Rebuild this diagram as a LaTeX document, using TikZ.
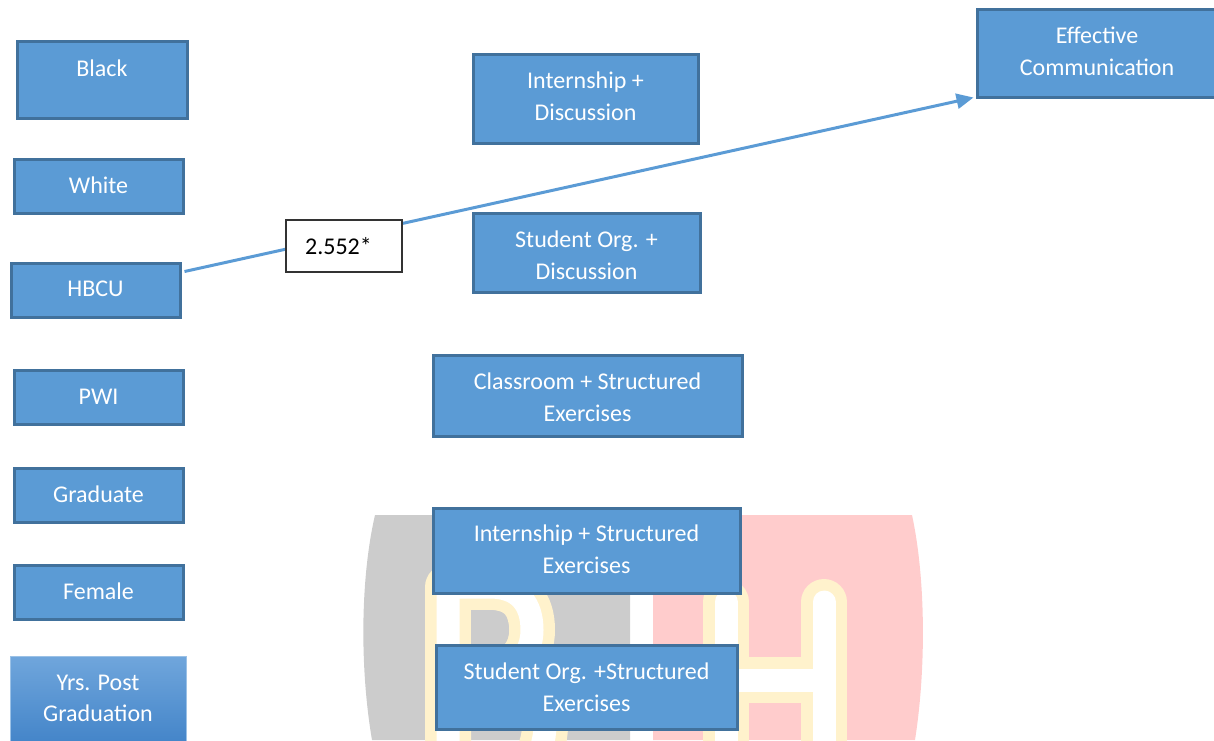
\documentclass[tikz,border=0pt]{standalone}
\usepackage{fontspec}
\setmainfont{Carlito}
\definecolor{bfill}{HTML}{5B9BD5}
\definecolor{bline}{HTML}{41719C}
\definecolor{gtop}{HTML}{70A6DC}
\definecolor{gbot}{HTML}{4485C9}
\definecolor{wgray}{HTML}{CCCCCC}
\definecolor{wpink}{HTML}{FFCCCC}
\definecolor{wcream}{HTML}{FFF2CC}
\newcommand\btxt[2]{\raisebox{#1}[0pt][0pt]{\begin{tabular}[c]{@{}c@{}}#2\end{tabular}}}
\tikzset{
  bx/.style={draw=bline,fill=bfill,line width=3pt,text=white,inner sep=0pt,
    font=\fontsize{24}{32}\selectfont},
  gradbx/.style={draw=gtop!70!white,line width=1pt,top color=gtop,bottom color=gbot,
    text=white,inner sep=0pt,font=\fontsize{24}{31}\selectfont},
  lab/.style={draw=black!80,fill=white,line width=1.3pt,inner sep=0pt,
    font=\fontsize{24}{31}\selectfont},
  wstroke/.style={line width=46pt,draw=wcream,line join=round,line cap=round},
  wcore/.style={line width=23pt,draw=white,line join=round,line cap=round},
  conn/.style={draw=bfill,line width=3pt,-{Triangle[length=17pt,width=15pt]}}
}
\usetikzlibrary{arrows.meta}
\begin{document}
\begin{tikzpicture}[x=1pt,y=-1pt]
\useasboundingbox (0,0) rectangle (1214,740);
\clip (0,0) rectangle (1214,740);
% watermark
\fill[wgray] (375,515) -- (630,515) -- (630,740) -- (372,740) .. controls (360,670) and (360,580) .. (375,515) -- cycle;
\fill[wpink] (653,515) -- (912,515) .. controls (926,580) and (926,670) .. (915,740) -- (653,740) -- cycle;
\def\Bpath{(448,790) -- (448,587) -- (490,587) .. controls (520,587) and (532,605) .. (532,630) .. controls (532,655) and (515,672) .. (490,672) -- (448,672) (490,672) .. controls (530,672) and (545,695) .. (545,725) .. controls (545,755) and (525,790) .. (490,790) -- (448,790)}
\def\Hpath{(726,790) -- (726,602) (824,602) -- (824,790) (726,680) -- (824,680)}
\draw[wstroke] \Bpath;
\draw[wcore] \Bpath;
\fill[wgray] (471,610) rectangle (490,650) (490,610) .. controls (503,610) and (509,618) .. (509,630) .. controls (509,642) and (503,650) .. (490,650) -- cycle;
\draw[wstroke] \Hpath;
\draw[wcore] \Hpath;
% left column
\node[bx,minimum width=170pt,minimum height=77pt] (black) at (102,79.5) {\btxt{3pt}{Black}};
\node[bx,minimum width=169pt,minimum height=54pt] (white) at (98.5,186) {\btxt{-7pt}{White}};
\node[bx,minimum width=169pt,minimum height=54pt] (hbcu) at (95.5,290) {\btxt{-6pt}{HBCU}};
\node[bx,minimum width=169pt,minimum height=54pt] (pwi) at (98.5,397) {\btxt{-7pt}{PWI}};
\node[bx,minimum width=169pt,minimum height=54pt] (graduate) at (98.5,495) {\btxt{-7pt}{Graduate}};
\node[bx,minimum width=169pt,minimum height=54pt] (female) at (98.5,592) {\btxt{-7pt}{Female}};
\node[gradbx,minimum width=176pt,minimum height=86pt] (yrs) at (98,699) {\btxt{-7pt}{Yrs. Post\\Graduation}};
% middle column
\node[bx,minimum width=225pt,minimum height=89pt] (intdisc) at (585.5,98.5) {\btxt{-6pt}{Internship +\\Discussion}};
\node[bx,minimum width=227pt,minimum height=79pt] (orgdisc) at (586.5,252.5) {\btxt{-11pt}{Student Org. +\\Discussion}};
\node[bx,minimum width=309pt,minimum height=81pt] (classex) at (587.5,395.5) {\btxt{-10pt}{Classroom + Structured\\Exercises}};
\node[bx,minimum width=307pt,minimum height=85pt] (intex) at (586.5,550.5) {\btxt{-7pt}{Internship + Structured\\Exercises}};
\node[bx,minimum width=301pt,minimum height=84pt] (orgex) at (586.5,687) {\btxt{-8pt}{Student Org. +Structured\\Exercises}};
% outcome
\node[bx,minimum width=240pt,minimum height=88pt] (effcom) at (1097,53) {\btxt{-6pt}{Effective\\Communication}};
% connector and label
\draw[conn] ([xshift=3pt,yshift=-10pt]hbcu.north east) -- ([xshift=-2pt,yshift=1pt]effcom.south west);
\node[lab,minimum width=116pt,minimum height=52pt] (coef) at (344,246) {\btxt{-9pt}{\hspace*{-11pt}2.552*}};
\end{tikzpicture}
\end{document}
